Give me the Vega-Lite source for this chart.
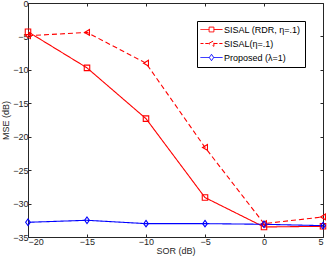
{
  "$schema": "https://vega.github.io/schema/vega-lite/v6.json",
  "width": 295,
  "height": 234,
  "autosize": {"type": "none"},
  "padding": {"left": 28, "top": 3, "right": 4, "bottom": 22},
  "background": "white",
  "config": {
    "font": "Liberation Sans",
    "view": {"stroke": "#262626", "strokeWidth": 1},
    "axis": {
      "labelFont": "Liberation Sans", "labelFontSize": 9, "labelColor": "#262626",
      "titleFont": "Liberation Sans", "titleFontSize": 9, "titleColor": "#262626", "titleFontWeight": "normal",
      "gridColor": "#e3e3e3", "gridWidth": 1, "domain": false,
      "tickColor": "#262626", "tickSize": -3
    },
    "legend": {
      "title": null, "orient": "none", "legendX": 169, "legendY": 18,
      "strokeColor": "#000000", "fillColor": "white", "padding": 4,
      "labelFont": "Liberation Sans", "labelFontSize": 9, "labelColor": "#000000",
      "symbolSize": 64, "rowPadding": 3, "symbolStrokeWidth": 1, "symbolOffset": 6, "labelOffset": 8
    }
  },
  "data": {"values": [
    {"sor": -20, "mse": -4.3, "series": "SISAL (RDR, η=.1)"},
    {"sor": -15, "mse": -9.7, "series": "SISAL (RDR, η=.1)"},
    {"sor": -10, "mse": -17.3, "series": "SISAL (RDR, η=.1)"},
    {"sor": -5, "mse": -29.1, "series": "SISAL (RDR, η=.1)"},
    {"sor": 0, "mse": -33.5, "series": "SISAL (RDR, η=.1)"},
    {"sor": 5, "mse": -33.4, "series": "SISAL (RDR, η=.1)"},
    {"sor": -20, "mse": -4.9, "series": "SISAL(η=.1)"},
    {"sor": -15, "mse": -4.4, "series": "SISAL(η=.1)"},
    {"sor": -10, "mse": -9.0, "series": "SISAL(η=.1)"},
    {"sor": -5, "mse": -21.6, "series": "SISAL(η=.1)"},
    {"sor": 0, "mse": -33.0, "series": "SISAL(η=.1)"},
    {"sor": 5, "mse": -32.0, "series": "SISAL(η=.1)"},
    {"sor": -20, "mse": -32.8, "series": "Proposed (λ=1)"},
    {"sor": -15, "mse": -32.5, "series": "Proposed (λ=1)"},
    {"sor": -10, "mse": -33.0, "series": "Proposed (λ=1)"},
    {"sor": -5, "mse": -33.0, "series": "Proposed (λ=1)"},
    {"sor": 0, "mse": -33.1, "series": "Proposed (λ=1)"},
    {"sor": 5, "mse": -33.3, "series": "Proposed (λ=1)"}
  ]},
  "layer": [
    {
      "mark": {"type": "line", "strokeWidth": 1.1},
      "encoding": {
        "x": {"field": "sor", "type": "quantitative", "scale": {"domain": [-20, 5], "nice": false},
              "axis": {"orient": "top", "values": [-20, -15, -10, -5, 0, 5], "labels": false, "grid": false, "title": null}},
        "y": {"field": "mse", "type": "quantitative", "scale": {"domain": [-35, 0], "nice": false},
              "axis": {"orient": "right", "values": [0, -5, -10, -15, -20, -25, -30, -35], "labels": false, "grid": false, "title": null}},
        "color": {"field": "series", "type": "nominal",
              "scale": {"domain": ["SISAL (RDR, η=.1)", "SISAL(η=.1)", "Proposed (λ=1)"], "range": ["#ff0000", "#ff0000", "#0000ff"]},
              "legend": {
                "symbolType": "square",
                "encode": {"symbols": {"update": {
                  "shape": {"signal": "datum.value === 'SISAL (RDR, η=.1)' ? 'M-2.75,0H-0.6M0.6,0H2.75M-0.6,-0.6H0.6V0.6H-0.6Z' : datum.value === 'SISAL(η=.1)' ? 'M-2.75,0H-2M-1.55,0H-0.7M0.6,0H1.5M1.95,0H2.75M-0.7,0L0.6,-0.7L0.6,0.7Z' : 'M-2.75,0H-0.55M0.55,0H2.75M0,-0.8L0.55,0L0,0.8L-0.55,0Z'"}}}}
              }},
        "strokeDash": {"field": "series", "type": "nominal",
                  "scale": {"domain": ["SISAL (RDR, η=.1)", "SISAL(η=.1)", "Proposed (λ=1)"], "range": [[1, 0], [5, 3], [1, 0]]},
                  "legend": null}
      }
    },
    {
      "transform": [{"filter": "datum.series === 'SISAL (RDR, η=.1)'"}],
      "mark": {"type": "point", "shape": "square", "filled": false, "size": 30, "strokeWidth": 1.1, "opacity": 1, "color": "#ff0000"},
      "encoding": {
        "x": {"field": "sor", "type": "quantitative", "scale": {"domain": [-20, 5], "nice": false},
              "axis": {"title": "SOR (dB)", "values": [-20, -15, -10, -5, 0, 5], "labelPadding": 3, "titlePadding": 0}},
        "y": {"field": "mse", "type": "quantitative", "scale": {"domain": [-35, 0], "nice": false},
              "axis": {"title": "MSE (dB)", "values": [0, -5, -10, -15, -20, -25, -30, -35], "labelPadding": 3, "titlePadding": 2}}
      }
    },
    {
      "transform": [{"filter": "datum.series === 'SISAL(η=.1)'"}],
      "mark": {"type": "point", "shape": "M-0.9,0L0.9,-1.05L0.9,1.05Z", "filled": false, "size": 30, "strokeWidth": 1.1, "opacity": 1, "color": "#ff0000"},
      "encoding": {
        "x": {"field": "sor", "type": "quantitative", "scale": {"domain": [-20, 5], "nice": false}, "axis": null},
        "y": {"field": "mse", "type": "quantitative", "scale": {"domain": [-35, 0], "nice": false}, "axis": null}
      }
    },
    {
      "transform": [{"filter": "datum.series === 'Proposed (λ=1)'"}],
      "mark": {"type": "point", "shape": "M0,-1.2L0.85,0L0,1.2L-0.85,0Z", "filled": false, "size": 30, "strokeWidth": 1.1, "opacity": 1, "color": "#0000ff"},
      "encoding": {
        "x": {"field": "sor", "type": "quantitative", "scale": {"domain": [-20, 5], "nice": false}, "axis": null},
        "y": {"field": "mse", "type": "quantitative", "scale": {"domain": [-35, 0], "nice": false}, "axis": null}
      }
    }
  ],
  "resolve": {"axis": {"x": "independent", "y": "independent"}}
}
